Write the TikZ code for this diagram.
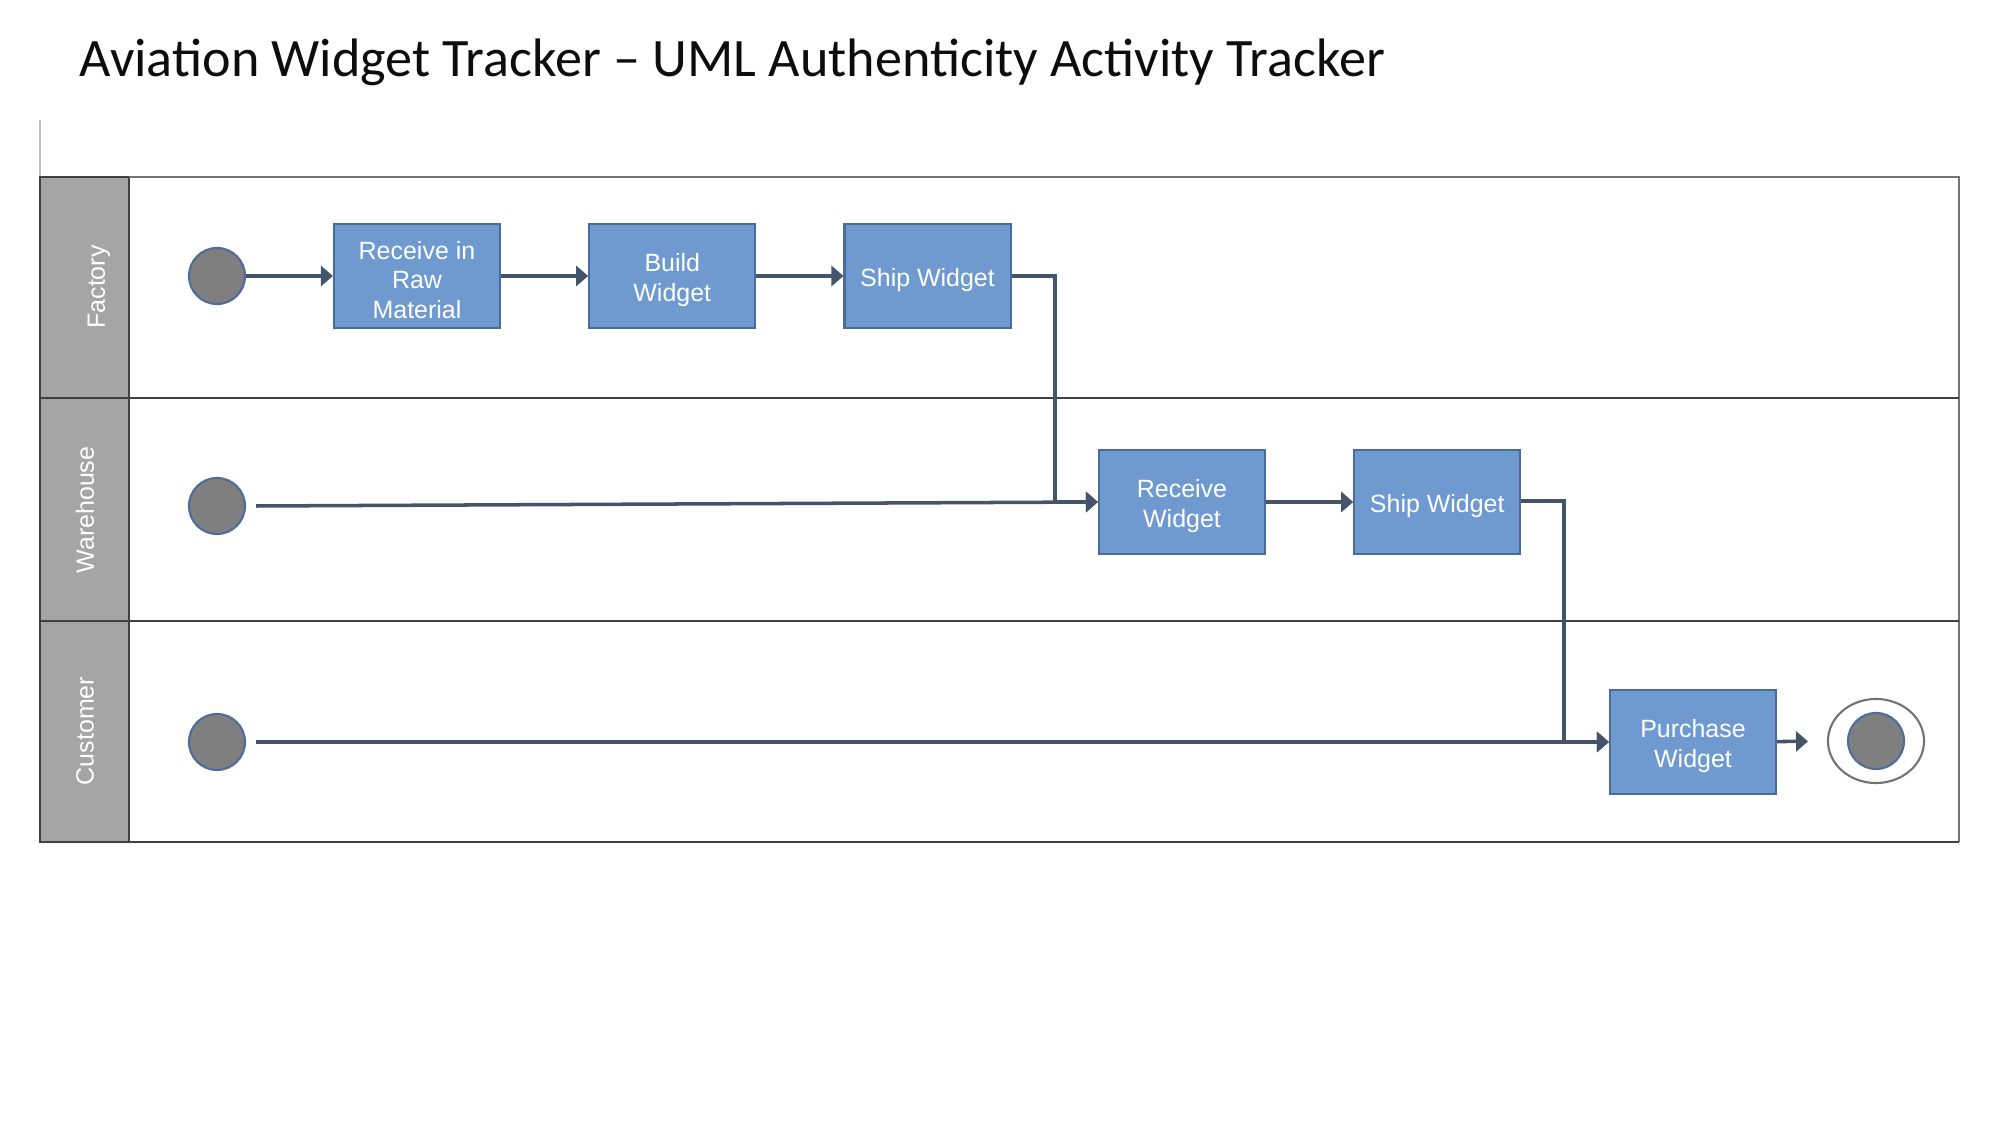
\documentclass[tikz,border=0pt]{standalone}
\usepackage{fontspec}
\setsansfont{Liberation Sans}
\newfontfamily\titlefont{Carlito}
\usepackage{xcolor}
\usetikzlibrary{positioning, arrows.meta, shapes.geometric}

\definecolor{actfill}{HTML}{6F9AD0}
\definecolor{actline}{HTML}{4A6C9B}
\definecolor{flowline}{HTML}{44546A}
\definecolor{startfill}{HTML}{7F7F7F}
\definecolor{startline}{HTML}{4E6D9A}
\definecolor{lanehead}{HTML}{A5A5A5}
\definecolor{laneline}{HTML}{404040}

\newcommand{\topstrut}{\rule{0pt}{7.4pt}}

\begin{document}
\begin{tikzpicture}[
    x=0.01cm, y=-0.01cm,
    node distance=0.87cm,
    activity/.style={rectangle, draw=actline, fill=actfill, line width=0.6pt, minimum width=1.66cm, minimum height=1.04cm, inner sep=1pt, align=center, text=white, font=\sffamily\fontsize{7.1}{8.3}\selectfont},
    startnode/.style={circle, draw=startline, fill=startfill, line width=0.6pt, minimum size=0.56cm, inner sep=0pt},
    lanelabel/.style={rotate=90, text=white, font=\sffamily\fontsize{7.1}{8.3}\selectfont},
    flow/.style={-{Triangle[length=3.4pt, width=5.7pt]}, line width=1pt, draw=flowline},
    lane/.style={draw=laneline, line width=0.6pt},
]
\useasboundingbox (0,0) rectangle (2000,1125);

% title
\node[anchor=base west, inner sep=0pt, font=\titlefont\fontsize{15.4}{18}\selectfont, text=black!95] (title) at (79,77) {Aviation Widget Tracker – UML Authenticity Activity Tracker};

% swimlanes
\draw[draw=black!25, line width=0.4pt] (40,120) -- (40,177);
\fill[lanehead] (40,177) rectangle (129,842);
\draw[lane] (40,177) rectangle (129,398);
\draw[lane] (40,398) rectangle (129,621);
\draw[lane] (40,621) rectangle (129,842);
\draw[draw=black!55, line width=0.6pt] (129,177) -- (1959,177) -- (1959,842);
\draw[lane] (129,398) -- (1959,398);
\draw[lane] (129,621) -- (1959,621);
\draw[lane] (129,842) -- (1959,842);

\node[lanelabel] (lf) at (99,287) {Factory};
\node[lanelabel] (lw) at (85,510) {Warehouse};
\node[lanelabel] (lc) at (85,731) {Customer};

% factory
\node[startnode] (fs) at (217,276) {};
\node[activity] (rrm) at (417,276) {\topstrut Receive in\\Raw\\Material};
\node[activity, right=of rrm] (bw) {\topstrut Build\\Widget};
\node[activity, right=of bw] (sw1) {\topstrut Ship Widget};

% warehouse
\node[startnode] (ws) at (217,506) {};
\node[activity] (rw) at (1182,502) {\topstrut Receive\\Widget};
\node[activity, right=of rw] (sw2) {\topstrut Ship Widget};

% customer
\node[startnode] (cs) at (217,742) {};
\node[activity] (pw) at (1693,742) {\topstrut Purchase\\Widget};
\node[ellipse, draw=black!55, line width=0.6pt, minimum width=0.96cm, minimum height=0.84cm, inner sep=0pt] (endo) at (1876,741) {};
\node[startnode] (endi) at (endo.center) {};

\coordinate (j1) at (1055,276);
\coordinate (j2) at (1564,501);

\draw[flow] (fs) -- (rrm);
\draw[flow] (rrm) -- (bw);
\draw[flow] (bw) -- (sw1);
\draw[flow] (sw1.east) -- (j1) |- (rw.west);
\draw[flow] ([xshift=0.1cm]ws.east) -- (rw.west);
\draw[flow] (rw) -- (sw2);
\draw[flow] (sw2.east |- j2) -- (j2) |- (pw.west);
\draw[flow] ([xshift=0.1cm]cs.east) -- (pw.west);
\draw[flow, shorten >=5.4pt] (pw) -- (endo);

\end{tikzpicture}
\end{document}
